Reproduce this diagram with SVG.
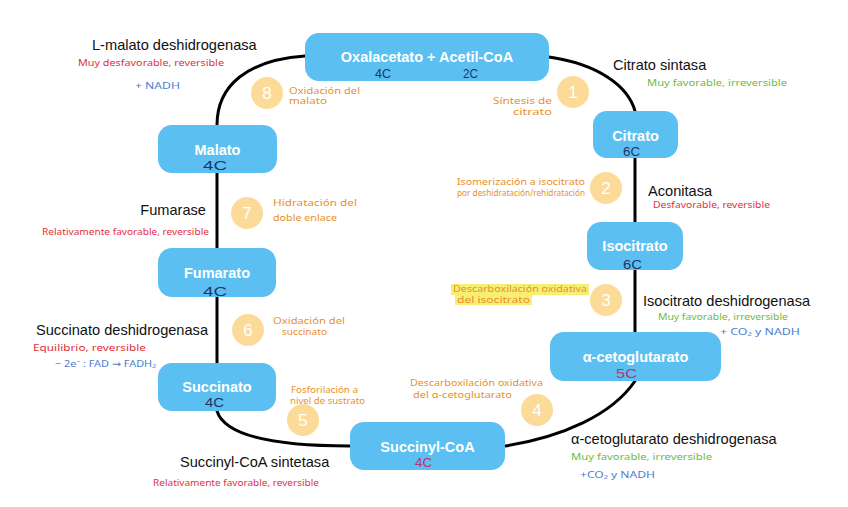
<svg xmlns="http://www.w3.org/2000/svg" width="848" height="507" viewBox="0 0 848 507">
<style>
.box{fill:#5CBFF1}
.lbl{font-family:"Liberation Sans",Arial,sans-serif;font-weight:bold;font-size:14.5px;fill:#ffffff;text-anchor:middle}
.cc{font-family:"Liberation Sans",Arial,sans-serif;font-size:13px;fill:#1c3468}
.cm{font-family:"Liberation Sans",Arial,sans-serif;font-size:13px;fill:#b8346e}
.enz{font-family:"Liberation Sans",Arial,sans-serif;font-size:14.6px;fill:#111111}
.hw{font-family:"Noto Sans","DejaVu Sans",sans-serif;font-size:9.5px}
.red{fill:#e0303e}
.grn{fill:#6cbc3c}
.blu{fill:#4a7fd0}
.org{fill:#e8912a;font-size:8.3px}
.step{fill:#fcdb98}
.num{font-family:"Liberation Sans",Arial,sans-serif;font-size:17px;fill:#ffffff;text-anchor:middle}
.con{fill:none;stroke:#000000;stroke-width:3;stroke-linecap:round}
</style>
<rect width="848" height="507" fill="#ffffff"/>
<g id="connectors">
<path class="con" d="M305,56 C248,60 217,85 217,125"/>
<path class="con" d="M549,57 C598,64 628,86 635,111"/>
<path class="con" d="M635,158 L635,222"/>
<path class="con" d="M635,270 L635,332"/>
<path class="con" d="M635,381 C612,415 562,437 505,446"/>
<path class="con" d="M350,446 C290,446 226,440 217,411"/>
<path class="con" d="M217,297 L217,363"/>
<path class="con" d="M217,173 L217,248"/>
</g>
<g id="oxalacetato">
<rect class="box" x="305" y="33" width="244" height="48" rx="14"/>
<text class="lbl" x="427" y="62">Oxalacetato + Acetil-CoA</text>
<text class="cc" x="375" y="78" font-size="11.5" textLength="16" lengthAdjust="spacingAndGlyphs">4C</text>
<text class="cc" x="463" y="78" font-size="11.5" textLength="15" lengthAdjust="spacingAndGlyphs">2C</text>
</g>
<g id="citrato">
<rect class="box" x="593" y="111" width="85" height="47" rx="14"/>
<text class="lbl" x="635.5" y="141">Citrato</text>
<text class="cc" x="623" y="156" textLength="17" lengthAdjust="spacingAndGlyphs">6C</text>
</g>
<g id="isocitrato">
<rect class="box" x="587" y="222" width="96" height="48" rx="14"/>
<text class="lbl" x="635" y="251">Isocitrato</text>
<text class="cc" x="623" y="269" textLength="19" lengthAdjust="spacingAndGlyphs">6C</text>
</g>
<g id="alfacetoglutarato">
<rect class="box" x="550" y="332" width="171" height="49" rx="14"/>
<text class="lbl" x="635.5" y="362">α-cetoglutarato</text>
<text class="cm" x="616" y="378" textLength="21" lengthAdjust="spacingAndGlyphs">5C</text>
</g>
<g id="succinilcoa">
<rect class="box" x="350" y="422" width="155" height="48" rx="14"/>
<text class="lbl" x="427.5" y="452">Succinyl-CoA</text>
<text class="cm" x="415" y="467" textLength="17" lengthAdjust="spacingAndGlyphs">4C</text>
</g>
<g id="succinato">
<rect class="box" x="158" y="363" width="118" height="48" rx="14"/>
<text class="lbl" x="217" y="392">Succinato</text>
<text class="cc" x="205" y="407" textLength="19" lengthAdjust="spacingAndGlyphs">4C</text>
</g>
<g id="fumarato">
<rect class="box" x="158" y="248" width="118" height="49" rx="14"/>
<text class="lbl" x="217" y="278">Fumarato</text>
<text class="cc" x="203" y="296" textLength="24" lengthAdjust="spacingAndGlyphs">4C</text>
</g>
<g id="malato">
<rect class="box" x="158" y="125" width="119" height="48" rx="14"/>
<text class="lbl" x="217.5" y="155">Malato</text>
<text class="cc" x="203" y="170" textLength="24" lengthAdjust="spacingAndGlyphs">4C</text>
</g>
<g id="step1">
<circle class="step" cx="573" cy="92" r="16"/>
<text class="num" x="573" y="98">1</text>
<text class="hw org" x="552" y="104" text-anchor="end" textLength="59" lengthAdjust="spacingAndGlyphs">Síntesis de</text>
<text class="hw org" x="552" y="115" text-anchor="end" textLength="39" lengthAdjust="spacingAndGlyphs">citrato</text>
</g>
<g id="step2">
<circle class="step" cx="606" cy="188" r="16"/>
<text class="num" x="606" y="194">2</text>
<text class="hw org" x="457" y="185" textLength="128" lengthAdjust="spacingAndGlyphs">Isomerización a isocitrato</text>
<text class="hw org" x="457" y="196" textLength="128" lengthAdjust="spacingAndGlyphs">por deshidratación/rehidratación</text>
</g>
<g id="step3">
<rect x="451" y="284" width="138" height="11" fill="#f7ef73"/>
<rect x="455" y="295" width="77" height="10" fill="#f7ef73"/>
<circle class="step" cx="606" cy="300" r="16"/>
<text class="num" x="606" y="306">3</text>
<text class="hw org" x="453" y="292" textLength="134" lengthAdjust="spacingAndGlyphs">Descarboxilación oxidativa</text>
<text class="hw org" x="457" y="303" textLength="73" lengthAdjust="spacingAndGlyphs">del isocitrato</text>
</g>
<g id="step4">
<circle class="step" cx="537" cy="410" r="16"/>
<text class="num" x="537" y="416">4</text>
<text class="hw org" x="410" y="386" textLength="133" lengthAdjust="spacingAndGlyphs">Descarboxilación oxidativa</text>
<text class="hw org" x="413" y="398" textLength="99" lengthAdjust="spacingAndGlyphs">del α-cetoglutarato</text>
</g>
<g id="step5">
<circle class="step" cx="303" cy="420" r="16"/>
<text class="num" x="303" y="426">5</text>
<text class="hw org" x="291" y="393" textLength="67" lengthAdjust="spacingAndGlyphs">Fosforilación a</text>
<text class="hw org" x="290" y="404" textLength="75" lengthAdjust="spacingAndGlyphs">nivel de sustrato</text>
</g>
<g id="step6">
<circle class="step" cx="248" cy="330" r="16"/>
<text class="num" x="248" y="336">6</text>
<text class="hw org" x="273" y="324" textLength="72" lengthAdjust="spacingAndGlyphs">Oxidación del</text>
<text class="hw org" x="282" y="335" textLength="45" lengthAdjust="spacingAndGlyphs">succinato</text>
</g>
<g id="step7">
<circle class="step" cx="247" cy="213" r="16"/>
<text class="num" x="247" y="219">7</text>
<text class="hw org" x="273" y="206" textLength="84" lengthAdjust="spacingAndGlyphs">Hidratación del</text>
<text class="hw org" x="273" y="221" textLength="64" lengthAdjust="spacingAndGlyphs">doble enlace</text>
</g>
<g id="step8">
<circle class="step" cx="267" cy="93" r="16"/>
<text class="num" x="267" y="99">8</text>
<text class="hw org" x="289" y="94" textLength="71" lengthAdjust="spacingAndGlyphs">Oxidación del</text>
<text class="hw org" x="289" y="104" textLength="38" lengthAdjust="spacingAndGlyphs">malato</text>
</g>
<g id="enz-malato">
<text class="enz" x="92" y="50">L-malato deshidrogenasa</text>
<text class="hw red" x="78" y="66" textLength="146" lengthAdjust="spacingAndGlyphs">Muy desfavorable, reversible</text>
<text class="hw blu" x="135" y="89" textLength="45" lengthAdjust="spacingAndGlyphs">+ NADH</text>
</g>
<g id="enz-citrato">
<text class="enz" x="613" y="70">Citrato sintasa</text>
<text class="hw grn" x="647" y="86" textLength="140" lengthAdjust="spacingAndGlyphs">Muy favorable, irreversible</text>
</g>
<g id="enz-aconitasa">
<text class="enz" x="648" y="196">Aconitasa</text>
<text class="hw red" x="653" y="208" textLength="117" lengthAdjust="spacingAndGlyphs">Desfavorable, reversible</text>
</g>
<g id="enz-isocitrato">
<text class="enz" x="643" y="306">Isocitrato deshidrogenasa</text>
<text class="hw grn" x="658" y="320" textLength="130" lengthAdjust="spacingAndGlyphs">Muy favorable, irreversible</text>
<text class="hw blu" x="720" y="335" textLength="80" lengthAdjust="spacingAndGlyphs">+ CO₂ y NADH</text>
</g>
<g id="enz-akg">
<text class="enz" x="571" y="444">α-cetoglutarato deshidrogenasa</text>
<text class="hw grn" x="571" y="460" textLength="141" lengthAdjust="spacingAndGlyphs">Muy favorable, irreversible</text>
<text class="hw blu" x="580" y="478" textLength="75" lengthAdjust="spacingAndGlyphs">+CO₂ y NADH</text>
</g>
<g id="enz-succcoa">
<text class="enz" x="180" y="467">Succinyl-CoA sintetasa</text>
<text class="hw red" x="153" y="486" textLength="166" lengthAdjust="spacingAndGlyphs">Relativamente favorable, reversible</text>
</g>
<g id="enz-succinato">
<text class="enz" x="36" y="335">Succinato deshidrogenasa</text>
<text class="hw red" x="33" y="351" textLength="113" lengthAdjust="spacingAndGlyphs">Equilibrio, reversible</text>
<text class="hw blu" x="55" y="367" textLength="101" lengthAdjust="spacingAndGlyphs">− 2e⁻ : FAD → FADH₂</text>
</g>
<g id="enz-fumarase">
<text class="enz" x="206" y="215" text-anchor="end">Fumarase</text>
<text class="hw red" x="42" y="235" textLength="167" lengthAdjust="spacingAndGlyphs">Relativamente favorable, reversible</text>
</g>
</svg>
